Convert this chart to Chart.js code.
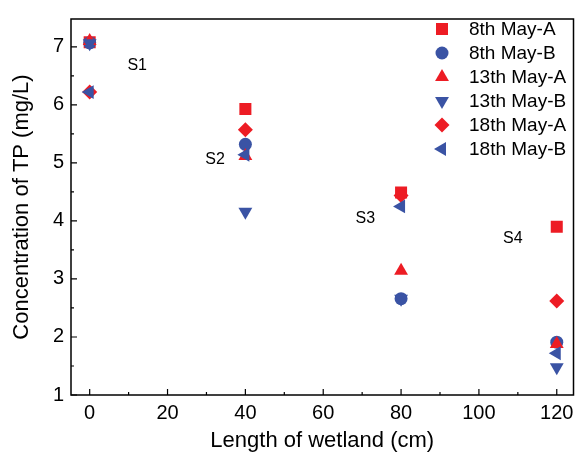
<!DOCTYPE html>
<html>
<head>
<meta charset="utf-8">
<script src="https://cdn.jsdelivr.net/npm/chart.js@4/dist/chart.umd.min.js"></script>
<style>
  html, body { margin: 0; padding: 0; background: #fff; }
  #wrap { width: 582px; height: 461px; }
</style>
</head>
<body>
<div id="wrap"><canvas id="tpChart" width="582" height="461"></canvas></div>
<script>
// lengths along the wetland (cm)
const lengths = [0, 40, 80, 120];

const seriesNames = ['8th May-A', '8th May-B', '13th May-A', '13th May-B', '18th May-A', '18th May-B'];

// TP concentration (mg/L)
const may8A  = [7.08, 5.93, 4.49, 3.90];
const may8B  = [7.07, 5.32, 2.66, 1.91];
const may13A = [7.10, 5.12, 3.14, 1.88];
const may13B = [7.06, 4.16, 2.66, 1.48];
const may18A = [6.22, 5.57, 4.44, 2.62];
const may18B = [6.22, 5.14, 4.25, 1.72];

const xTicks = [0, 20, 40, 60, 80, 100, 120];
const yTicks = [1, 2, 3, 4, 5, 6, 7];
const xMinorTicks = [10, 30, 50, 70, 90, 110];
const yMinorTicks = [1.5, 2.5, 3.5, 4.5, 5.5, 6.5];

// sampling site labels (data coords)
const siteLabels = ['S1', 'S2', 'S3', 'S4'];
const siteX = [12.2, 32.2, 70.8, 108.7];
const siteY = [6.67, 5.06, 4.04, 3.70];

const RED = '#ed1c24';
const BLUE = '#3a53a4';
const FONT = "'Liberation Sans', Arial, sans-serif";

const styles = [
  { color: RED,  pointStyle: 'rect',     radius: 8.5, rotation: 0 },
  { color: BLUE, pointStyle: 'circle',   radius: 6.5, rotation: 0 },
  { color: RED,  pointStyle: 'triangle', radius: 8,   rotation: 0 },
  { color: BLUE, pointStyle: 'triangle', radius: 8,   rotation: 180 },
  { color: RED,  pointStyle: 'rectRot',  radius: 7.5, rotation: 0 },
  { color: BLUE, pointStyle: 'triangle', radius: 8,   rotation: -90 }
];

const allSeries = [may8A, may8B, may13A, may13B, may18A, may18B];

const datasets = allSeries.map((vals, i) => ({
  label: seriesNames[i],
  data: vals.map((v, j) => ({ x: lengths[j], y: v })),
  pointStyle: styles[i].pointStyle,
  pointRadius: styles[i].radius,
  pointRotation: styles[i].rotation,
  pointBackgroundColor: styles[i].color,
  pointBorderColor: styles[i].color,
  pointBorderWidth: 0,
  showLine: false,
  order: allSeries.length - i   // later series drawn on top
}));

function drawMarker(ctx, st, x, y) {
  const opts = { pointStyle: st.pointStyle, radius: st.radius, rotation: st.rotation, borderWidth: 0 };
  ctx.save();
  ctx.fillStyle = st.color;
  ctx.strokeStyle = st.color;
  ctx.lineWidth = 0;
  Chart.helpers.drawPoint(ctx, opts, x, y);
  ctx.restore();
}

const framePlugin = {
  id: 'frame',
  afterDraw(chart) {
    const ctx = chart.ctx;
    const a = chart.chartArea;
    const xs = chart.scales.x, ys = chart.scales.y;
    ctx.save();
    ctx.strokeStyle = '#000';
    ctx.lineWidth = 1.5;
    ctx.strokeRect(a.left, a.top, a.right - a.left, a.bottom - a.top);
    ctx.lineWidth = 1.2;
    ctx.beginPath();
    xTicks.forEach(v => { const px = xs.getPixelForValue(v); ctx.moveTo(px, a.bottom); ctx.lineTo(px, a.bottom - 6); });
    xMinorTicks.forEach(v => { const px = xs.getPixelForValue(v); ctx.moveTo(px, a.bottom); ctx.lineTo(px, a.bottom - 3); });
    yTicks.forEach(v => { const py = ys.getPixelForValue(v); ctx.moveTo(a.left, py); ctx.lineTo(a.left + 6, py); });
    yMinorTicks.forEach(v => { const py = ys.getPixelForValue(v); ctx.moveTo(a.left, py); ctx.lineTo(a.left + 3, py); });
    ctx.stroke();

    // site labels
    ctx.fillStyle = '#000';
    ctx.font = '16px ' + FONT;
    ctx.textAlign = 'center';
    ctx.textBaseline = 'middle';
    siteLabels.forEach((t, i) => {
      ctx.fillText(t, xs.getPixelForValue(siteX[i]), ys.getPixelForValue(siteY[i]));
    });

    // legend
    ctx.font = '19px ' + FONT;
    ctx.textAlign = 'left';
    seriesNames.forEach((name, i) => {
      const yy = 29 + i * 24;
      drawMarker(ctx, styles[i], 442, yy);
      ctx.fillStyle = '#000';
      ctx.fillText(name, 469, yy + 1);
    });
    ctx.restore();
  }
};

new Chart(document.getElementById('tpChart'), {
  type: 'scatter',
  data: { datasets },
  options: {
    responsive: false,
    animation: false,
    layout: { padding: { top: 13, right: 1, left: 0, bottom: 0 } },
    plugins: { legend: { display: false }, tooltip: { enabled: false } },
    scales: {
      x: {
        type: 'linear',
        min: -4.8,
        max: 124.3,
        afterFit: s => { s.height = 66; },
        afterBuildTicks: s => { s.ticks = xTicks.map(v => ({ value: v })); },
        grid: { display: false, drawTicks: false },
        border: { display: false },
        ticks: { color: '#000', padding: 6, font: { family: FONT, size: 20 } },
        title: { display: true, text: 'Length of wetland (cm)', color: '#000', padding: { top: 0, bottom: 7 }, font: { family: FONT, size: 22 } }
      },
      y: {
        type: 'linear',
        min: 1,
        max: 7.48,
        afterFit: s => { s.width = 71; },
        afterBuildTicks: s => { s.ticks = yTicks.map(v => ({ value: v })); },
        grid: { display: false, drawTicks: false },
        border: { display: false },
        ticks: { color: '#000', padding: 7, font: { family: FONT, size: 20 } },
        title: { display: true, text: 'Concentration of TP (mg/L)', color: '#000', padding: { top: 9, bottom: 0 }, font: { family: FONT, size: 22 } }
      }
    }
  },
  plugins: [framePlugin]
});
</script>
</body>
</html>
